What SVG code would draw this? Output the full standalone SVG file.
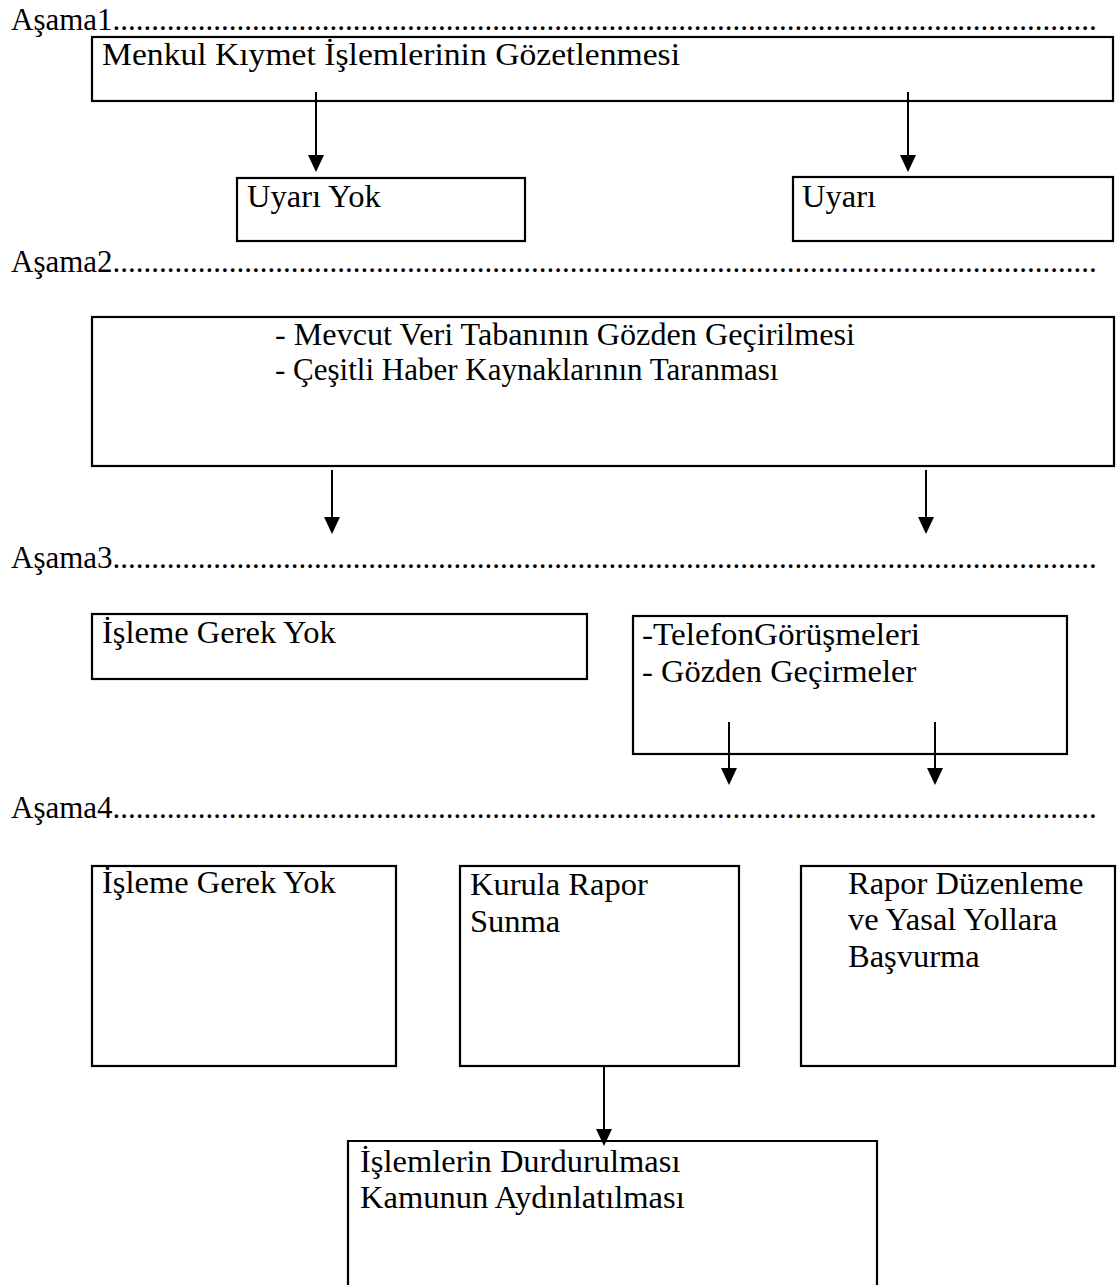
<svg xmlns="http://www.w3.org/2000/svg" width="1120" height="1285" viewBox="0 0 1120 1285">
<style>
text{font-family:"Liberation Serif","Times New Roman",serif;font-size:31px;fill:#000}
.t{font-size:32.5px}
.box{fill:#fff;stroke:#000;stroke-width:2.2}
.ln{stroke:#000;stroke-width:2;fill:none}
</style>
<rect width="1120" height="1285" fill="#fff"/>
<g id="stages">
<text x="11" y="30">Aşama1...............................................................................................................................</text>
<text x="11" y="272">Aşama2...............................................................................................................................</text>
<text x="11" y="568">Aşama3...............................................................................................................................</text>
<text x="11" y="818">Aşama4...............................................................................................................................</text>
</g>
<g id="n1"><rect class="box" x="92" y="37" width="1021" height="64"/><text class="t" x="102" y="65" textLength="578" lengthAdjust="spacingAndGlyphs">Menkul Kıymet İşlemlerinin Gözetlenmesi</text></g>
<g id="n2"><rect class="box" x="237" y="178" width="288" height="63"/><text class="t" x="247" y="207">Uyarı Yok</text></g>
<g id="n3"><rect class="box" x="793" y="177" width="320" height="64"/><text class="t" x="802" y="207">Uyarı</text></g>
<g id="n4"><rect class="box" x="92" y="317" width="1022" height="149"/><text x="275" y="345" textLength="580" lengthAdjust="spacingAndGlyphs">- Mevcut Veri Tabanının Gözden Geçirilmesi</text><text x="275" y="380">- Çeşitli Haber Kaynaklarının Taranması</text></g>
<g id="n5"><rect class="box" x="92" y="614" width="495" height="65"/><text class="t" x="102" y="643">İşleme Gerek Yok</text></g>
<g id="n6"><rect class="box" x="633" y="616" width="434" height="138"/><text class="t" x="642" y="645" textLength="278" lengthAdjust="spacingAndGlyphs">-TelefonGörüşmeleri</text><text class="t" x="642" y="682">- Gözden Geçirmeler</text></g>
<g id="n7"><rect class="box" x="92" y="866" width="304" height="200"/><text class="t" x="102" y="893">İşleme Gerek Yok</text></g>
<g id="n8"><rect class="box" x="460" y="866" width="279" height="200"/><text class="t" x="470" y="895">Kurula Rapor</text><text class="t" x="470" y="932">Sunma</text></g>
<g id="n9"><rect class="box" x="801" y="866" width="314" height="200"/><text class="t" x="848" y="894">Rapor Düzenleme</text><text class="t" x="848" y="930">ve Yasal Yollara</text><text class="t" x="848" y="967">Başvurma</text></g>
<g id="n10"><path class="box" d="M348,1290 V1141 H877 V1290"/><text class="t" x="360" y="1172">İşlemlerin Durdurulması</text><text class="t" x="360" y="1208">Kamunun Aydınlatılması</text></g>
<g id="connectors">
<path class="ln" d="M316,92 V160"/><path d="M308,155 H324 L316,172 Z"/>
<path class="ln" d="M908,92 V160"/><path d="M900,155 H916 L908,172 Z"/>
<path class="ln" d="M332,470 V522"/><path d="M324,517 H340 L332,534 Z"/>
<path class="ln" d="M926,470 V522"/><path d="M918,517 H934 L926,534 Z"/>
<path class="ln" d="M729,722 V773"/><path d="M721,768 H737 L729,785 Z"/>
<path class="ln" d="M935,722 V773"/><path d="M927,768 H943 L935,785 Z"/>
<path class="ln" d="M604,1066 V1134"/><path d="M596,1129 H612 L604,1146 Z"/>
</g>
</svg>
